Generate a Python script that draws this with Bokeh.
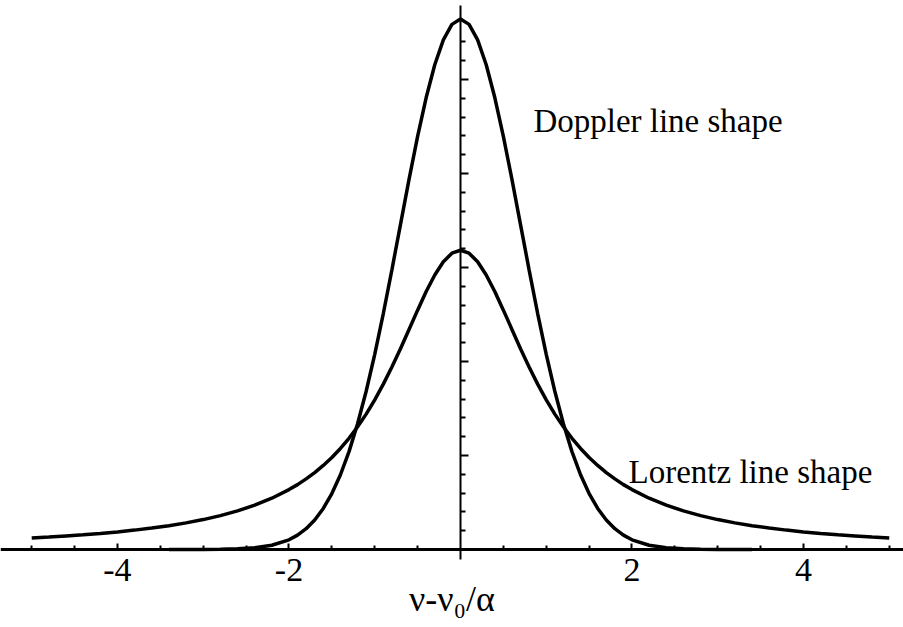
from bokeh.plotting import figure
from bokeh.models import LinearAxis, FixedTicker, Range1d, Label
from bokeh.embed import file_html
from bokeh.resources import INLINE

# ---- data ----
lorentz_x = [-5.0, -4.8, -4.6, -4.4, -4.2, -4.0, -3.8, -3.6, -3.4, -3.2, -3.0, -2.8, -2.6, -2.4, -2.2,
             -2.0, -1.9, -1.8, -1.7, -1.6, -1.5, -1.4, -1.3, -1.2, -1.1, -1.0, -0.9, -0.8, -0.7, -0.6,
             -0.5, -0.4, -0.3, -0.2, -0.1, 0.0, 0.1, 0.2, 0.3, 0.4, 0.5, 0.6, 0.7, 0.8, 0.9, 1.0,
             1.1, 1.2, 1.3, 1.4, 1.5, 1.6, 1.7, 1.8, 1.9, 2.0,
             2.2, 2.4, 2.6, 2.8, 3.0, 3.2, 3.4, 3.6, 3.8, 4.0, 4.2, 4.4, 4.6, 4.8, 5.0]
lorentz_y = [0.0122, 0.0132, 0.0144, 0.0156, 0.0171, 0.0187, 0.0206, 0.0228, 0.0253, 0.0283, 0.0318, 0.0360, 0.0410, 0.0471, 0.0545,
             0.0637, 0.0690, 0.0751, 0.0818, 0.0894, 0.0979, 0.1075, 0.1183, 0.1305, 0.1440, 0.1592, 0.1759, 0.1941, 0.2136, 0.2341,
             0.2546, 0.2744, 0.2920, 0.3061, 0.3152, 0.3183, 0.3152, 0.3061, 0.2920, 0.2744, 0.2546, 0.2341, 0.2136, 0.1941, 0.1759, 0.1592,
             0.1440, 0.1305, 0.1183, 0.1075, 0.0979, 0.0894, 0.0818, 0.0751, 0.0690, 0.0637,
             0.0545, 0.0471, 0.0410, 0.0360, 0.0318, 0.0283, 0.0253, 0.0228, 0.0206, 0.0187, 0.0171, 0.0156, 0.0144, 0.0132, 0.0122]

doppler_x = [-3.4, -3.2, -3.0, -2.8, -2.6, -2.4, -2.2,
             -2.0, -1.9, -1.8, -1.7, -1.6, -1.5, -1.4, -1.3, -1.2, -1.1, -1.0, -0.9, -0.8, -0.7, -0.6,
             -0.5, -0.4, -0.3, -0.2, -0.1, 0.0, 0.1, 0.2, 0.3, 0.4, 0.5, 0.6, 0.7, 0.8, 0.9, 1.0,
             1.1, 1.2, 1.3, 1.4, 1.5, 1.6, 1.7, 1.8, 1.9, 2.0,
             2.2, 2.4, 2.6, 2.8, 3.0, 3.2, 3.4]
doppler_y = [0.0, 0.0, 0.0001, 0.0002, 0.0007, 0.0018, 0.0045,
             0.0103, 0.0153, 0.0221, 0.0314, 0.0436, 0.0595, 0.0795, 0.1041, 0.1337, 0.1683, 0.2076, 0.2510, 0.2975, 0.3456, 0.3937,
             0.4394, 0.4808, 0.5156, 0.5421, 0.5586, 0.5642, 0.5586, 0.5421, 0.5156, 0.4808, 0.4394, 0.3937, 0.3456, 0.2975, 0.2510, 0.2076,
             0.1683, 0.1337, 0.1041, 0.0795, 0.0595, 0.0436, 0.0314, 0.0221, 0.0153, 0.0103,
             0.0045, 0.0018, 0.0007, 0.0002, 0.0001, 0.0, 0.0]

x_major_ticks = [-4, -2, 2, 4]
x_tick_labels = {-4: "-4", -2: "-2", 2: "2", 4: "4"}
x_minor_ticks = [-5, -4.5, -3.5, -3, -2.5, -1.5, -1, -0.5, 0.5, 1, 1.5, 2.5, 3, 3.5, 4.5, 5]
y_major_ticks = [0.1, 0.2, 0.3, 0.4, 0.5]
y_minor_ticks = [0.02, 0.04, 0.06, 0.08, 0.12, 0.14, 0.16, 0.18, 0.22, 0.24, 0.26, 0.28,
                 0.32, 0.34, 0.36, 0.38, 0.42, 0.44, 0.46, 0.48, 0.52, 0.54]

x_title = "ν-ν₀/α"
doppler_label = "Doppler line shape"
lorentz_label = "Lorentz line shape"

FONT = "Liberation Serif"

p = figure(width=903, height=627, output_backend="svg", toolbar_location=None,
           x_axis_type=None, y_axis_type=None,
           x_range=Range1d(-5.364, 5.166), y_range=Range1d(-0.0830, 0.5840),
           min_border=0, min_border_left=0, min_border_right=0,
           min_border_top=0, min_border_bottom=0)
p.outline_line_color = None
p.background_fill_color = "white"
p.border_fill_color = "white"

# curves
p.line(lorentz_x, lorentz_y, line_color="black", line_width=3.5)
p.line(doppler_x, doppler_y, line_color="black", line_width=3.5)

# x axis crossing at y = 0
xa = LinearAxis(fixed_location=0,
                ticker=FixedTicker(ticks=x_major_ticks, minor_ticks=x_minor_ticks),
                axis_label=x_title)
xa.major_label_overrides = x_tick_labels
xa.axis_line_width = 3
xa.axis_line_color = "black"
xa.major_tick_in = 6
xa.major_tick_out = 0
xa.minor_tick_in = 4
xa.minor_tick_out = 0
xa.major_tick_line_width = 2
xa.minor_tick_line_width = 2
xa.major_label_text_font = FONT
xa.major_label_text_font_size = "34px"
xa.major_label_text_color = "black"
xa.major_label_standoff = 10
xa.axis_label_text_font = FONT
xa.axis_label_text_font_size = "36px"
xa.axis_label_text_font_style = "normal"
xa.axis_label_text_color = "black"
xa.axis_label_standoff = -6
p.add_layout(xa, "below")

# y axis crossing at x = 0 (no labels): short ticks
ya = LinearAxis(fixed_location=0, bounds=(-0.0106, 0.5787),
                ticker=FixedTicker(ticks=[], minor_ticks=y_minor_ticks))
ya.axis_line_width = 2
ya.axis_line_color = "black"
ya.minor_tick_in = 5
ya.minor_tick_out = 0
ya.minor_tick_line_width = 2
p.add_layout(ya, "left")

# y axis: longer ticks at major positions
ya2 = LinearAxis(fixed_location=0, bounds=(-0.0106, 0.5787),
                 ticker=FixedTicker(ticks=[], minor_ticks=y_major_ticks))
ya2.axis_line_color = None
ya2.minor_tick_in = 8
ya2.minor_tick_out = 0
ya2.minor_tick_line_width = 2
p.add_layout(ya2, "left")

p.add_layout(Label(x=0.85, y=0.456, text=doppler_label, text_font=FONT,
                   text_font_size="33px", text_color="black", text_baseline="alphabetic"))
p.add_layout(Label(x=1.96, y=0.082, text=lorentz_label, text_font=FONT,
                   text_font_size="33px", text_color="black", text_baseline="alphabetic"))

open("out.html", "w").write(file_html(p, INLINE))
